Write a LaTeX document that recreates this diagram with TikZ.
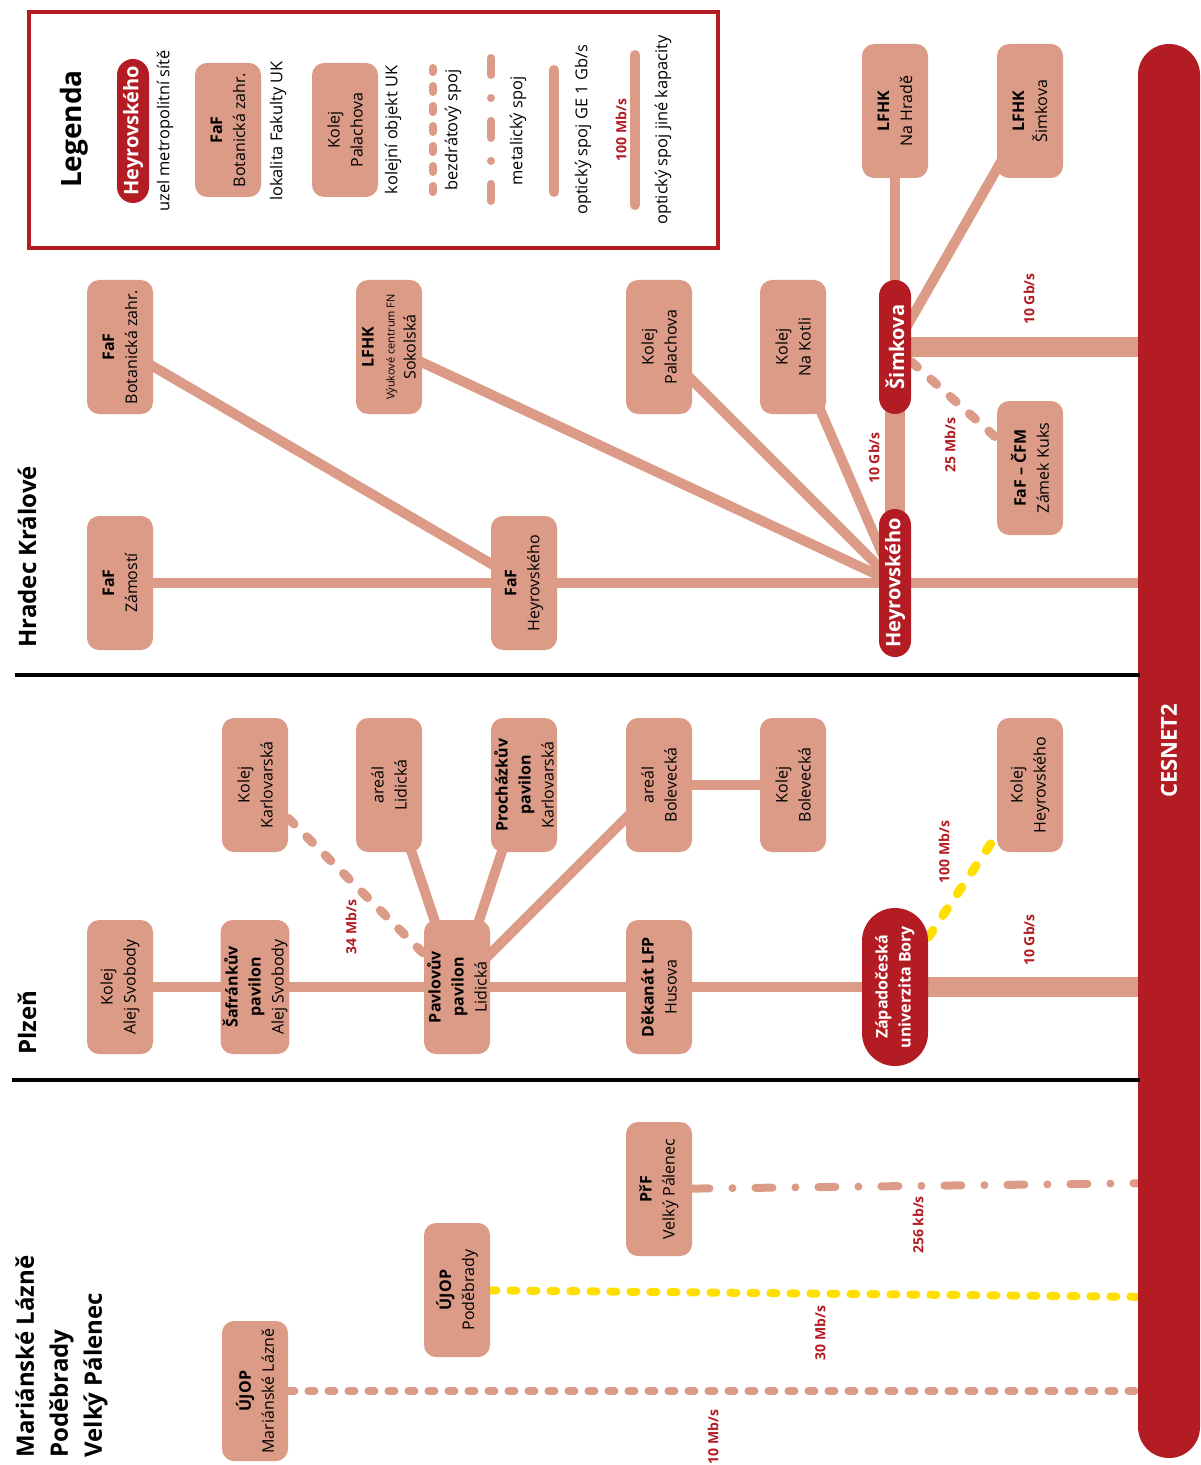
\documentclass[tikz,border=0pt]{standalone}
\usepackage{fontspec}
\setmainfont{Open Sans}
\usetikzlibrary{backgrounds}
\definecolor{salmon}{RGB}{219,155,135}
\definecolor{cred}{RGB}{180,28,36}
\definecolor{cyel}{RGB}{255,222,0}
\tikzset{
  box/.style={rotate=90, fill=salmon, rounded corners=6pt, minimum width=67pt,
    minimum height=33pt, inner sep=1pt, align=center,
    font=\fontsize{8}{11.5}\selectfont},
  hub/.style={rotate=90, fill=cred, text=white, rounded corners=8pt,
    minimum height=16pt, inner sep=0pt, font=\bfseries\fontsize{10}{12}\selectfont},
  rate/.style={rotate=90, text=cred, inner sep=0pt, font=\bfseries\fontsize{7}{8}\selectfont},
  legtext/.style={rotate=90, inner sep=0pt, font=\fontsize{8.2}{10}\selectfont},
  region/.style={rotate=90, inner sep=0pt, align=left, font=\bfseries\fontsize{12}{17}\selectfont},
  fiber/.style={draw=salmon, line width=5pt},
  fat/.style={draw=salmon, line width=10pt},
  wifi/.style={draw=salmon, line width=4pt, line cap=round, dash pattern=on 3pt off 7pt},
  wifil/.style={draw=salmon, line width=4.5pt, line cap=round, dash pattern=on 4pt off 9pt},
  metal/.style={draw=salmon, line width=4pt, line cap=round, dash pattern=on 8.5pt off 11.5pt on 0pt off 11.5pt},
  sep/.style={draw=black, line width=2pt},
}
\begin{document}
\begin{tikzpicture}[x=0.5pt, y=-0.5pt]
\useasboundingbox (0,0) rectangle (1200,1465);

% ---------- legend ----------
\node[draw=cred, line width=2.2pt, minimum width=344.5pt, minimum height=118pt, inner sep=0pt] (legend) at (373.5,130) {};
\node[rotate=90, inner sep=0pt, font=\bfseries\fontsize{14}{16}\selectfont] (legtitle) at (74,129) {Legenda};
\node[hub, minimum width=72pt] (lhub) at (133,131) {Heyrovského};
\node[legtext] (lt1) at (165,131) {uzel metropolitní sítě};
\node[box] (lbox1) at (228,130) {\textbf{FaF}\\Botanická zahr.};
\node[legtext] (lt2) at (278,131) {lokalita Fakulty UK};
\node[box] (lbox2) at (345,130) {Kolej\\Palachova};
\node[legtext] (lt3) at (393,130) {kolejní objekt UK};
\coordinate (lw1) at (433,192); \coordinate (lw2) at (433,68);
\draw[wifi] (lw1) -- (lw2);
\node[legtext] (lt4) at (453,130) {bezdrátový spoj};
\coordinate (lm1) at (491,201); \coordinate (lm2) at (491,57);
\draw[metal] (lm1) -- (lm2);
\node[legtext] (lt5) at (518,131) {metalický spoj};
\coordinate (lg1) at (554,192); \coordinate (lg2) at (554,70);
\draw[fiber, line cap=round] (lg1) -- (lg2);
\node[legtext] (lt6) at (583,130) {optický spoj GE 1 Gb/s};
\coordinate (lo1) at (635,205); \coordinate (lo2) at (635,55);
\draw[fiber, line cap=round] (lo1) -- (lo2);
\node[rate] (lr) at (621,130) {100 Mb/s};
\node[legtext] (lt7) at (663,130) {optický spoj jiné kapacity};

% ---------- CESNET ----------
\node[rotate=90, fill=cred, text=white, minimum width=707pt, minimum height=31pt,
  rounded corners=15.5pt, inner sep=0pt, font=\bfseries\fontsize{11}{13}\selectfont] (cesnet) at (1169,751) {CESNET2};

% ---------- region titles and separators ----------
\node[region, anchor=west] (thk) at (27,648) {Hradec Králové};
\node[region, anchor=west] (tpl) at (27,1055) {Plzeň};
\node[region, anchor=north west] (tml) at (15,1458) {Mariánské Lázně\\Poděbrady\\Velký Pálenec};
\coordinate (s1a) at (15,675); \coordinate (s1b) at (1140,675);
\coordinate (s2a) at (12,1080); \coordinate (s2b) at (1140,1080);
\draw[sep] (s1a) -- (s1b);
\draw[sep] (s2a) -- (s2b);

% ---------- Hradec Kralove ----------
\node[box] (botan) at (120,347) {\textbf{FaF}\\Botanická zahr.};
\node[box] (sokol) at (389,347) {\textbf{LFHK}\\[-1pt]{\fontsize{5.5}{7}\selectfont Výukové centrum FN}\\[-1pt]Sokolská};
\node[box] (palach) at (659,347) {Kolej\\Palachova};
\node[box] (kotli) at (793,347) {Kolej\\Na Kotli};
\node[hub, minimum width=67pt] (sim) at (895,347) {Šimkova};
\node[box] (hradu) at (895,111) {\textbf{LFHK}\\Na Hradě};
\node[box] (lfsim) at (1030,111) {\textbf{LFHK}\\Šimkova};
\node[box] (kuks) at (1030,468) {\textbf{FaF – ČFM}\\Zámek Kuks};
\node[box] (zamost) at (120,583) {\textbf{FaF}\\Zámostí};
\node[box] (fafhey) at (524,583) {\textbf{FaF}\\Heyrovského};
\node[hub, minimum width=74pt] (hey) at (895,583) {Heyrovského};

% ---------- Plzen ----------
\node[box] (alej) at (120,987) {Kolej\\Alej Svobody};
\node[box] (safr) at (255,987) {\textbf{Šafránkův}\\\textbf{pavilon}\\Alej Svobody};
\node[box] (karl) at (255,785) {Kolej\\Karlovarská};
\node[box] (lidic) at (389,785) {areál\\Lidická};
\node[box] (proch) at (524,785) {\textbf{Procházkův}\\\textbf{pavilon}\\Karlovarská};
\node[box] (arbol) at (659,785) {areál\\Bolevecká};
\node[box] (kobol) at (793,785) {Kolej\\Bolevecká};
\node[box] (kohey) at (1030,785) {Kolej\\Heyrovského};
\node[box] (pavl) at (457,987) {\textbf{Pavlovův}\\\textbf{pavilon}\\Lidická};
\node[box] (dekan) at (659,987) {\textbf{Děkanát LFP}\\Husova};
\node[rotate=90, fill=cred, text=white, minimum width=79pt, minimum height=33pt,
  rounded corners=16.5pt, inner sep=0pt, align=center,
  font=\bfseries\fontsize{8}{11.5}\selectfont] (zcu) at (895,987) {Západočeská\\univerzita Bory};

% ---------- remote sites ----------
\node[box] (pripf) at (659,1189) {\textbf{PřF}\\Velký Pálenec};
\node[box] (podeb) at (457,1290) {\textbf{ÚJOP}\\Poděbrady};
\node[box, minimum width=70pt] (marl) at (255,1391) {\textbf{ÚJOP}\\Mariánské Lázně};
\coordinate (cP) at (1160,1183);
\coordinate (cD) at (1160,1297);
\coordinate (cM) at (1160,1391);

% ---------- connectors ----------
\begin{pgfonlayer}{background}
\draw[fiber] (zamost.center) -- (fafhey.center) -- (hey.center) -- (cesnet.center |- hey.center);
\draw[fiber] (botan.center) -- (fafhey.center);
\draw[fiber] (sokol.center) -- (hey.center);
\draw[fiber] (palach.center) -- (hey.center);
\draw[fiber] (kotli.center) -- (hey.center);
\draw[fat] (hey.center) -- (sim.center);
\draw[fat] (sim.center) -- (cesnet.center |- sim.center);
\draw[fiber] (sim.center) -- (hradu.center);
\draw[fiber] (sim.center) -- (lfsim.center);
\draw[wifil] (sim) -- (kuks);

\draw[fiber] (alej.center) -- (safr.center) -- (pavl.center) -- (dekan.center) -- (zcu.center);
\draw[fat] (zcu.center) -- (cesnet.center |- zcu.center);
\draw[fiber] (arbol.center) -- (kobol.center);
\draw[fiber] (pavl.center) -- (lidic.center);
\draw[fiber] (pavl.center) -- (proch.center);
\draw[fiber] (pavl.center) -- (arbol.center);
\draw[wifil] (karl) -- (pavl);
\draw[wifil, draw=cyel] (zcu) -- (kohey);

\draw[metal] (pripf) -- (cP);
\draw[wifi, draw=cyel] (podeb) -- (cD);
\draw[wifi] (marl) -- (cM);
\end{pgfonlayer}

% ---------- rate labels ----------
\node[rate] (r1) at (1029,299) {10 Gb/s};
\node[rate] (r2) at (874,458) {10 Gb/s};
\node[rate] (r3) at (950,445) {25 Mb/s};
\node[rate] (r4) at (351,927) {34 Mb/s};
\node[rate] (r5) at (944,852) {100 Mb/s};
\node[rate] (r6) at (1029,940) {10 Gb/s};
\node[rate] (r7) at (918,1225) {256 kb/s};
\node[rate] (r8) at (820,1333) {30 Mb/s};
\node[rate] (r9) at (713,1437) {10 Mb/s};
\end{tikzpicture}
\end{document}
